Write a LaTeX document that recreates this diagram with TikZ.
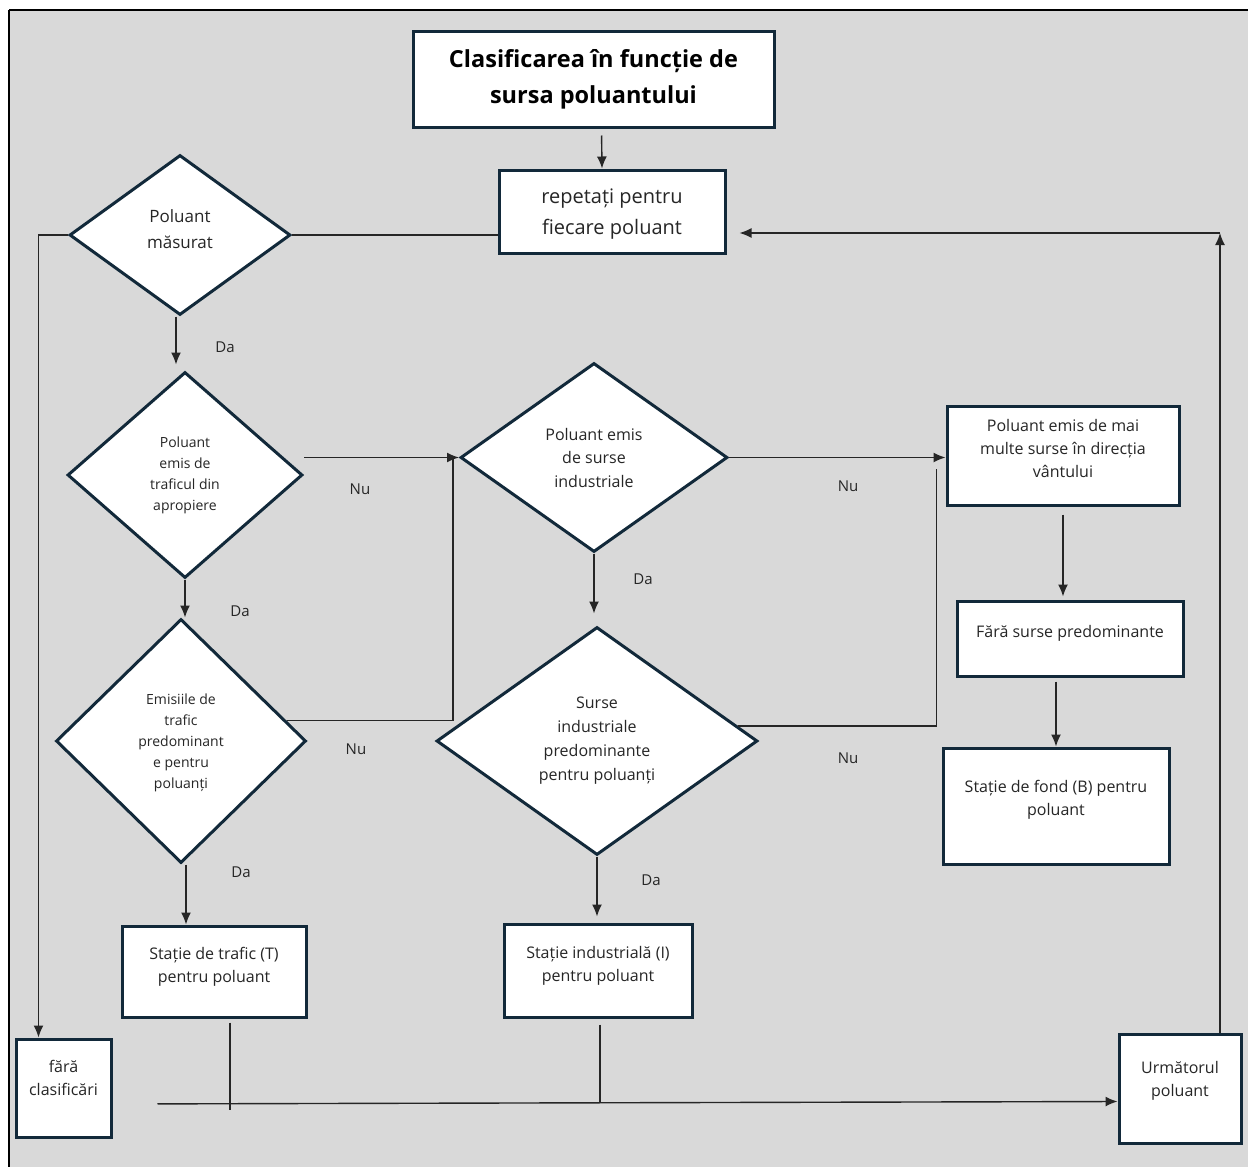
\documentclass[tikz,border=0pt]{standalone}
\usepackage{fontspec}
\setmainfont{Open Sans}
\usetikzlibrary{shapes.geometric,arrows.meta}
\definecolor{panel}{HTML}{D9D9D9}
\definecolor{edge}{HTML}{12293A}
\definecolor{ink}{HTML}{262626}

\begin{document}
\begin{tikzpicture}[x=1pt,y=-1pt,
    box/.style={rectangle,draw=edge,line width=3pt,fill=white,align=center,text=ink,inner sep=2pt,font=\fontsize{16}{23}\selectfont},
    dec/.style={diamond,draw=edge,line width=3pt,fill=white,align=center,text=ink,inner sep=0pt},
    arr/.style={-{Latex[length=12pt,width=10pt]},line width=1.4pt,draw=black!85},
    wire/.style={line width=1.4pt,draw=black!85},
    lbl/.style={text=ink,font=\fontsize{15}{18}\selectfont}]
    \useasboundingbox (0,0) rectangle (1248,1167);
    \fill[panel] (9,10) rectangle (1248,1167);
    \draw[line width=2.5pt] (9,1167) -- (9,10);
    \draw[line width=1.5pt] (9,10) -- (1248,10);

    \node[box,font=\fontsize{23.5}{36}\selectfont\bfseries,text=black,minimum width=361pt,minimum height=96pt] (title) at (593.5,79) {Clasificarea în funcție de\\sursa poluantului};
    \node[box,font=\fontsize{20}{31}\selectfont,minimum width=226pt,minimum height=83pt,text depth=0pt] (rep) at (612,211.5) {repetați pentru\\fiecare poluant};
    \node[dec,font=\fontsize{17}{26}\selectfont,minimum width=221pt,minimum height=160pt,text depth=12pt] (d0) at (180,235) {Poluant\\măsurat};
    \node[dec,font=\fontsize{14}{21}\selectfont,minimum width=235pt,minimum height=206pt] (d1) at (185,475) {Poluant\\emis de\\traficul din\\apropiere};
    \node[dec,font=\fontsize{16}{23.5}\selectfont,minimum width=267pt,minimum height=189pt] (d2) at (594,457.5) {Poluant emis\\de surse\\industriale};
    \node[dec,font=\fontsize{14}{21}\selectfont,minimum width=250pt,minimum height=244pt,text depth=0pt] (d3) at (181,741) {Emisiile de\\trafic\\predominant\\e pentru\\poluanți};
    \node[dec,font=\fontsize{16}{24}\selectfont,minimum width=321pt,minimum height=228pt] (d4) at (597,741) {Surse\\industriale\\predominante\\pentru poluanți};
    \node[box,minimum width=232pt,minimum height=99pt,text depth=14pt] (b1) at (1063,455.5) {Poluant emis de mai\\multe surse în direcția\\vântului};
    \node[box,minimum width=226pt,minimum height=75pt,text depth=14pt] (b2) at (1070,638.5) {Fără surse predominante};
    \node[box,minimum width=226pt,minimum height=116pt,text depth=16pt] (b3) at (1056,806) {Stație de fond (B) pentru\\poluant};
    \node[box,minimum width=184pt,minimum height=91pt,text depth=14pt] (bT) at (214,971.5) {Stație de trafic (T)\\pentru poluant};
    \node[box,minimum width=188pt,minimum height=93pt,text depth=14pt] (bI) at (598,970.5) {Stație industrială (I)\\pentru poluant};
    \node[box,minimum width=95pt,minimum height=98pt,text depth=20pt] (fara) at (63.5,1088) {fără\\clasificări};
    \node[box,minimum width=122pt,minimum height=109pt,text depth=20pt] (bU) at (1180,1088.5) {Următorul\\poluant};

    % Da / Nu
    \node[lbl] (da0) at (225,347) {Da};
    \node[lbl] (nu1) at (360,489) {Nu};
    \node[lbl] (da1) at (240,611) {Da};
    \node[lbl] (nu3) at (356,749) {Nu};
    \node[lbl] (da2) at (643,579) {Da};
    \node[lbl] (nu2) at (848,486) {Nu};
    \node[lbl] (nu4) at (848,758) {Nu};
    \node[lbl] (da3) at (241,872) {Da};
    \node[lbl] (da4) at (651,880) {Da};

    \coordinate (tT) at ([xshift=-28pt]bT.north);
    \coordinate (jT) at (230,1110);
    \coordinate (jI) at (600,1103);
    \coordinate (turn) at (1220,233);

    \draw[arr,shorten <=7pt] ([xshift=8pt]title.south) -- ([xshift=-10pt]rep.north);
    \draw[wire] (d0.east) -- (d0.east -| rep.west);
    \draw[arr] (d0.west) -| ([xshift=-25pt]fara.north);
    \draw[arr,shorten >=6pt] ([xshift=-4pt]d0.south) -- ([xshift=-4pt]d0.south |- d1.north);
    \draw[arr] (d1.east |- d2.west) -- (d2.west);
    \draw[arr] (d1.south) -- (d1.south |- d3.north);
    \draw[wire] (d3.11) -| ([xshift=-6pt]d2.west);
    \draw[arr,shorten >=12pt] (d2.south) -- (d2.south |- d4.north);
    \draw[arr] (d2.east) -- (d2.east -| b1.west);
    \draw[wire] (d4.6) -| ([xshift=-9pt,yshift=-13pt]b1.west);
    \draw[arr,shorten <=8pt,shorten >=3pt] (b1.south) -- (b1.south |- b2.north);
    \draw[arr,shorten <=4pt] (b3.north |- b2.south) -- (b3.north);
    \draw[arr] (d3.south -| tT) -- (tT);
    \draw[arr,shorten >=6pt] (d4.south) -- (d4.south |- bI.north);
    \draw[wire,shorten <=4pt] (jT |- bT.south) -- (jT);
    \draw[wire,shorten <=6pt] (jI |- bI.south) -- (jI);
    \draw[arr,shorten <=45pt] ([yshift=-16pt]fara.east) -- ([yshift=-13pt]bU.west);
    \draw[arr] (turn |- bU.north) -- (turn);
    \draw[arr,shorten >=13pt] (turn) -- (turn -| rep.east);
\end{tikzpicture}
\end{document}
